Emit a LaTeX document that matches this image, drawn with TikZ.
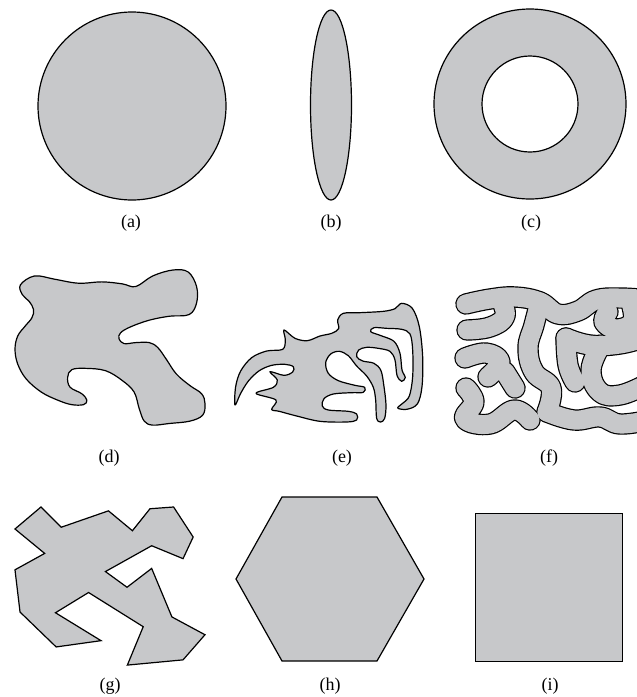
\documentclass[tikz,border=0pt]{standalone}
\usepackage{fontspec}
\setmainfont{Liberation Serif}
\definecolor{shapegray}{RGB}{199,200,202}
\begin{document}
\begin{tikzpicture}[x=1pt,y=-1pt,
  shp/.style={fill=shapegray,draw=black,line width=1.2pt,line join=round},
  lbl/.style={font=\fontsize{18}{20}\selectfont,inner sep=0pt},
  wormb/.style={draw=black,line width=21.4pt,line cap=round,line join=round},
  wormg/.style={draw=shapegray,line width=19pt,line cap=round,line join=round}]
\useasboundingbox (0,0) rectangle (637,697);
% row 1
\draw[shp] (132,106) circle [radius=94];
\draw[shp] (331,105) ellipse [x radius=20.5, y radius=95];
\draw[shp,even odd rule] (530,104) ellipse [x radius=96, y radius=95] (530,104) circle [radius=48];
\node[lbl] (la) at (131,223) {(a)};
\node[lbl] (lb) at (331,223) {(b)};
\node[lbl] (lc) at (531,223) {(c)};
% (d)
\begin{scope}[shift={(0.83,263.4)},xscale=0.3375,yscale=0.33]
\draw[shp] plot[smooth cycle,tension=0.6] coordinates {
(100,38) (160,48) (230,60) (300,56) (360,62) (400,70) (450,38) (510,20) (555,26) (580,70) (580,120) (558,155) (500,160) (440,172) (385,192) (355,210) (350,228) (365,243) (400,240) (440,240) (465,255) (490,290) (520,335) (560,370) (595,395) (605,425) (598,460) (560,478) (500,485) (450,490) (425,478) (410,440) (395,390) (360,355) (310,325) (250,318) (210,322) (198,345) (205,375) (240,395) (255,415) (245,428) (210,428) (170,415) (120,390) (75,350) (50,305) (42,260) (50,220) (72,190) (92,165) (97,140) (84,115) (64,95) (58,65)};
\end{scope}
% (e)
\begin{scope}[shift={(220,290)},scale=1/3]
\draw[shp] plot[smooth cycle,tension=0.55] coordinates {
(45,345) (47,290) (62,243) (95,203) (140,183) (188,178)
(196,150) (192,120) (225,145) (262,152)
(300,138) (335,130) (356,116) (353,90) (370,70) (420,68)
(490,64) (525,56) (545,40)
(577,55) (598,110) (608,200) (606,290) (592,342) (560,358) (533,354) (548,340) (568,318) (578,260) (578,180) (570,132) (545,118)
(500,115) (462,113) (452,125) (483,137) (522,154) (540,190) (546,240) (556,262) (545,274) (531,256) (525,210) (510,184) (475,175) (440,172) (416,180) (410,200) (428,213) (462,220) (483,242) (492,290) (498,345) (494,385) (482,396)
(470,385) (467,330) (460,292) (440,258) (410,228) (385,197) (358,184) (332,192) (317,218) (325,250) (355,272) (405,286) (434,292) (430,307) (395,308) (340,312) (312,326) (307,348) (325,360) (385,364) (410,372) (410,390) (380,396) (300,394) (230,378) (178,364)
(155,358) (168,330) (108,310) (160,292) (172,270) (150,245) (192,256) (218,246) (220,230) (195,223) (155,226) (118,242) (86,272) (62,310)};
\end{scope}
% (f)
\foreach \s in {wormb,wormg}{
\draw[\s] plot[smooth,tension=0.7] coordinates {(466,304) (490,299) (515,297) (540,302) (558,314) (578,311) (596,300) (620,298) (650,300)};
\draw[\s] plot[smooth,tension=0.7] coordinates {(500,298) (505,316) (490,327) (467,330)};
\draw[\s] plot[smooth,tension=0.7] coordinates {(540,302) (534,325) (528,348) (534,372) (551,388) (547,412)};
\draw[\s] plot[smooth,tension=0.7] coordinates {(465,358) (486,353) (500,362) (488,377)};
\draw[\s] plot[smooth,tension=0.7] coordinates {(466,388) (474,402) (465,419) (490,424) (514,410) (530,420)};
\draw[\s] plot[smooth,tension=0.7] coordinates {(547,412) (574,420) (600,417) (620,424) (650,420)};
\draw[\s] plot[smooth,tension=0.7] coordinates {(566,338) (590,345) (620,344) (650,336)};
\draw[\s] plot[smooth,tension=0.7] coordinates {(630,300) (633,321) (617,329) (604,322) (608,312)};
\draw[\s] plot[smooth,tension=0.7] coordinates {(601,345) (591,370) (600,392) (620,395) (645,385)};
\draw[\s] plot[smooth,tension=0.7] coordinates {(566,338) (568,365) (575,382)};
\draw[\s] plot[smooth,tension=0.7] coordinates {(515,388) (505,372)};
}
\node[lbl] (ld) at (109,458) {(d)};
\node[lbl] (le) at (342,458) {(e)};
\node[lbl] (lf) at (549,458) {(f)};
% (g)
\begin{scope}[shift={(-1.9,487.1)},xscale=0.3375,yscale=0.349]
\draw[shp,line join=miter] (127,57) -- (187,115) -- (327,68) -- (398,125) -- (450,62) -- (520,57) -- (578,143) -- (548,205) -- (455,168) -- (318,242) -- (382,287) -- (455,233) -- (515,372) -- (613,423) -- (548,495) -- (383,510) -- (430,400) -- (268,302) -- (170,360) -- (305,440) -- (172,458) -- (65,358) -- (50,237) -- (138,190) -- (50,120) -- cycle;
\end{scope}
% (h)
\draw[shp,line join=miter] (282,497) -- (377,497) -- (424,579) -- (377,661) -- (282,661) -- (236,579) -- cycle;
% (i)
\draw[shp,line join=miter] (475.5,513.5) rectangle (622.5,661.5);
\node[lbl] (lg) at (110,686) {(g)};
\node[lbl] (lh) at (330,686) {(h)};
\node[lbl] (li) at (550,686) {(i)};
\end{tikzpicture}
\end{document}
